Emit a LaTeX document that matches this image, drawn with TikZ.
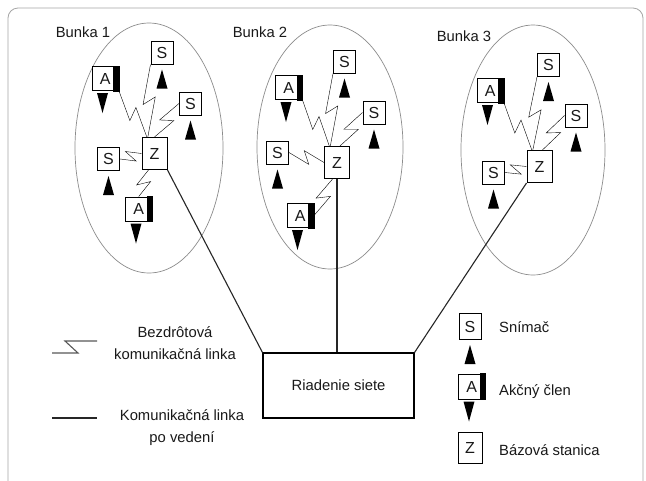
\documentclass[tikz,border=0pt]{standalone}
\usepackage{fontspec}
\setmainfont{Liberation Sans}
\usetikzlibrary{calc}
\newcommand\sens[1]{\fill[black] ($(#1.south)+(0,5)$) -- ++(5.5,19) -- ++(-11,0) -- cycle;}
\newcommand\akt[1]{\fill[black] ($(#1.south)+(-8.25,2)$) -- ++(11,0) -- ++(-5.5,20) -- cycle;
  \filldraw[black,line width=1pt] (#1.north east) rectangle ([xshift=-5.5pt]#1.south east);}
\begin{document}
\begin{tikzpicture}[x=1pt,y=-1pt,
  txt/.style={font=\fontsize{14.8}{22}\selectfont, text=black!90, inner sep=0pt},
  box/.style={draw, line width=1pt, fill=white, inner sep=0pt, text=black!90, font=\fontsize{16}{18}\selectfont},
  sbox/.style={box, minimum width=22pt, minimum height=23pt},
  abox/.style={box, minimum width=26.5pt, minimum height=24pt},
  zbox/.style={box, minimum width=25pt, minimum height=32pt},
  link/.style={line width=1.1pt, draw=black!85},
  wl/.style={link, to path={-- ($(\tikztostart)!0.5!(\tikztotarget)!7.2pt!-56:(\tikztotarget)$) -- ($(\tikztostart)!0.5!(\tikztotarget)!7.2pt!124:(\tikztotarget)$) -- (\tikztotarget)}},
  cell/.style={draw=black!45, line width=0.7pt},
]
\useasboundingbox (0,0) rectangle (646,480);
\clip (0,0) rectangle (646,480);
\fill[white] (0,0) rectangle (646,480);
\draw[black!35, line width=0.8pt, rounded corners=10pt] (8,495) -- (8,8) -- (643,8) -- (643,495);

% cells
\draw[cell] (149,148) ellipse [x radius=74pt, y radius=125pt];
\draw[cell] (330,147) ellipse [x radius=73pt, y radius=122pt];
\draw[cell] (533,150) ellipse [x radius=72pt, y radius=125pt];

\node[txt] (b1) at (83,32) {Bunka 1};
\node[txt] (b2) at (260,32) {Bunka 2};
\node[txt] (b3) at (464,36) {Bunka 3};

% control box
\node[draw, line width=1.1pt, minimum width=151pt, minimum height=65pt, txt] (riad) at (338.5,385.5) {Riadenie siete};

% cell 1
\node[sbox] (s1a) at (162,52.5) {S};
\node[abox] (a1a) at (105.25,78.5) {A\hspace{5.5pt}};
\node[sbox] (s1b) at (190.5,103.5) {S};
\node[zbox] (z1) at (154.5,153.5) {Z};
\node[sbox] (s1c) at (108.5,159) {S};
\node[abox] (a1b) at (138.75,209) {A\hspace{5.5pt}};
\sens{s1a}\sens{s1b}\sens{s1c}\akt{a1a}\akt{a1b}
\draw (a1a.south east) to[wl] (z1.115);
\draw (s1a.south west) to[wl] (z1.112);
\draw (s1b.west) to[wl] (z1.north);
\draw (s1c.east) to[wl] (z1.west);
\draw (z1.250) to[wl] (a1b.north);
\draw[link] (z1.south east) -- (riad.north west);

% cell 2
\node[sbox] (s2a) at (344.5,61.5) {S};
\node[abox] (a2a) at (288.75,87.5) {A\hspace{5.5pt}};
\node[sbox] (s2b) at (374,112.5) {S};
\node[sbox] (s2c) at (277.5,152.5) {S};
\node[zbox] (z2) at (337,162.5) {Z};
\node[abox] (a2b) at (300.25,215.5) {A\hspace{5.5pt}};
\sens{s2a}\sens{s2b}\sens{s2c}\akt{a2a}\akt{a2b}
\draw (a2a.south east) to[wl] (z2.115);
\draw (s2a.south west) to[wl] (z2.112);
\draw (s2b.west) to[wl] (z2.80);
\draw (s2c.east) to[wl] (z2.west);
\draw (z2.255) to[wl] (a2b.east);
\draw[link] (z2.south) -- (z2.south |- riad.north);

% cell 3
\node[sbox] (s3a) at (548.5,65) {S};
\node[abox] (a3a) at (490.25,90.5) {A\hspace{5.5pt}};
\node[sbox] (s3b) at (576,115.5) {S};
\node[sbox] (s3c) at (493.5,172.5) {S};
\node[zbox] (z3) at (539.5,166.5) {Z};
\sens{s3a}\sens{s3b}\sens{s3c}\akt{a3a}
\draw (a3a.south east) to[wl] (z3.115);
\draw (s3a.south west) to[wl] (z3.112);
\draw (s3b.west) to[wl] (z3.80);
\draw (s3c.east) to[wl] (z3.west);
\draw[link] (z3.south west) -- (riad.north east);

% legend left
\coordinate (w1) at (52,353);
\coordinate (w2) at (97,341);
\draw[link, draw=black!65] (w1) -- ++(26,0) -- ++(-13,-12) -- (w2);
\node[txt, align=center] (tw) at (175,343) {Bezdrôtová\\komunikačná linka};
\coordinate (l1) at (52,418);
\coordinate (l2) at (97,418);
\draw[link] (l1) -- (l2);
\node[txt, align=center] (tl) at (182,428) {Komunikačná linka\\po vedení};

% legend right
\node[sbox, minimum height=26pt] (ls) at (470,326.5) {S};
\sens{ls}
\node[abox, minimum height=25pt] (la) at (471.75,386.5) {A\hspace{5.5pt}};
\akt{la}
\node[zbox, minimum width=24pt, minimum height=31pt] (lz) at (470,447.5) {Z};
\node[txt, anchor=west] (ts) at (499,327) {Snímač};
\node[txt, anchor=west] (ta) at (499,392) {Akčný člen};
\node[txt, anchor=west] (tz) at (499,450) {Bázová stanica};
\end{tikzpicture}
\end{document}
